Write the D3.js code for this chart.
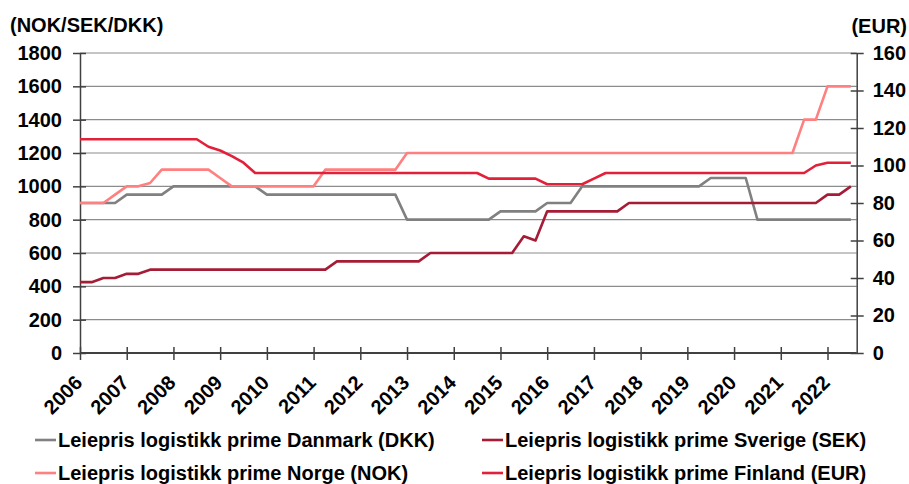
<!DOCTYPE html>
<html>
<head>
<meta charset="utf-8">
<script src="https://cdn.jsdelivr.net/npm/d3@7"></script>
<style>
  html, body { margin: 0; padding: 0; background: #fff; }
  svg text { font-family: Arial, "Liberation Sans", sans-serif; font-weight: bold; fill: #000; }
</style>
</head>
<body>
<svg id="chart" width="909" height="484"></svg>
<script>
// Quarterly observations, 2006Q1 .. 2022Q3 (index 0 .. 66)
const yearLabels = ["2006","2007","2008","2009","2010","2011","2012","2013","2014","2015","2016","2017","2018","2019","2020","2021","2022"];
const leftTicks = [0, 200, 400, 600, 800, 1000, 1200, 1400, 1600, 1800];
const rightTicks = [0, 20, 40, 60, 80, 100, 120, 140, 160];

const danmark = [900,900,900,900, 950,950,950,950, 1000,1000,1000,1000, 1000,1000,1000,1000,
  950,950,950,950, 950,950,950,950, 950,950,950,950, 800,800,800,800,
  800,800,800,800, 850,850,850,850, 900,900,900,1000, 1000,1000,1000,1000,
  1000,1000,1000,1000, 1000,1000,1050,1050, 1050,1050,800,800, 800,800,800,800,
  800,800,800];
const norge = [900,900,900,950, 1000,1000,1020,1100, 1100,1100,1100,1100, 1050,1000,1000,1000,
  1000,1000,1000,1000, 1000,1100,1100,1100, 1100,1100,1100,1100, 1200,1200,1200,1200,
  1200,1200,1200,1200, 1200,1200,1200,1200, 1200,1200,1200,1200, 1200,1200,1200,1200,
  1200,1200,1200,1200, 1200,1200,1200,1200, 1200,1200,1200,1200, 1200,1200,1400,1400,
  1600,1600,1600];
const sverige = [425,425,450,450, 475,475,500,500, 500,500,500,500, 500,500,500,500,
  500,500,500,500, 500,500,550,550, 550,550,550,550, 550,550,600,600,
  600,600,600,600, 600,600,700,675, 850,850,850,850, 850,850,850,900,
  900,900,900,900, 900,900,900,900, 900,900,900,900, 900,900,900,900,
  950,950,1000];
const finland = [114,114,114,114, 114,114,114,114, 114,114,114,110, 108,105,101.5,96,
  96,96,96,96, 96,96,96,96, 96,96,96,96, 96,96,96,96,
  96,96,96,93, 93,93,93,93, 90,90,90,90, 93,96,96,96,
  96,96,96,96, 96,96,96,96, 96,96,96,96, 96,96,96,100,
  101.5,101.5,101.5];

const seriesNames = [
  "Leiepris logistikk prime Danmark (DKK)",
  "Leiepris logistikk prime Sverige (SEK)",
  "Leiepris logistikk prime Norge (NOK)",
  "Leiepris logistikk prime Finland (EUR)"
];
const colors = { dk: "#808080", se: "#A51C36", no: "#FF8080", fi: "#E2203A" };

const svg = d3.select("#chart");
const mLeft = 80, mRight = 856.7, mTop = 53, mBottom = 353;
const FS = 20;

const x = d3.scaleLinear().domain([0, 66.5]).range([mLeft, mRight]);
const yL = d3.scaleLinear().domain([0, 1800]).range([mBottom, mTop]);
const yR = d3.scaleLinear().domain([0, 160]).range([mBottom, mTop]);

// gridlines
svg.append("g").selectAll("line").data(leftTicks.filter(d => d > 0)).join("line")
  .attr("x1", mLeft).attr("x2", mRight)
  .attr("y1", d => yL(d)).attr("y2", d => yL(d))
  .attr("stroke", "#8c8c8c").attr("stroke-width", 1.2);

// left axis
const gL = svg.append("g").attr("transform", `translate(${mLeft},0)`)
  .call(d3.axisLeft(yL).tickValues(leftTicks).tickFormat(d3.format("d")).tickSize(0).tickPadding(18));
gL.select(".domain").attr("stroke", "#404040").attr("stroke-width", 1.5);
gL.selectAll(".tick line").attr("x1", -7).attr("x2", 6).attr("stroke", "#404040").attr("stroke-width", 1.5);
gL.selectAll(".tick text").attr("font-size", FS).attr("font-family", null).attr("fill", "#000");

// right axis
const gR = svg.append("g").attr("transform", `translate(${mRight},0)`)
  .call(d3.axisRight(yR).tickValues(rightTicks).tickFormat(d3.format("d")).tickSize(0).tickPadding(16));
gR.select(".domain").attr("stroke", "#404040").attr("stroke-width", 1.5);
gR.selectAll(".tick line").attr("x1", -6).attr("x2", 7).attr("stroke", "#404040").attr("stroke-width", 1.5);
gR.selectAll(".tick text").attr("font-size", FS).attr("font-family", null).attr("fill", "#000");

// bottom axis
const gB = svg.append("g").attr("transform", `translate(0,${mBottom})`)
  .call(d3.axisBottom(x).tickValues(yearLabels.map((_, i) => i * 4))
    .tickFormat((d, i) => yearLabels[i]).tickSize(0));
gB.select(".domain").attr("d", `M${mLeft},0H${mRight}`).attr("stroke", "#404040").attr("stroke-width", 2);
gB.selectAll(".tick line").attr("y1", -6).attr("y2", 7).attr("stroke", "#404040").attr("stroke-width", 1.5);
gB.selectAll(".tick text").attr("font-size", FS).attr("font-family", null).attr("fill", "#000")
  .attr("text-anchor", "end").attr("dy", null).attr("y", 0)
  .attr("transform", "translate(3,31) rotate(-45)");

// lines
const lineL = d3.line().x((d, i) => x(i)).y(d => yL(d));
const lineR = d3.line().x((d, i) => x(i)).y(d => yR(d));
const plotted = [
  { data: danmark, gen: lineL, color: colors.dk },
  { data: sverige, gen: lineL, color: colors.se },
  { data: norge, gen: lineL, color: colors.no },
  { data: finland, gen: lineR, color: colors.fi }
];
svg.append("g").selectAll("path").data(plotted).join("path")
  .attr("d", d => d.gen(d.data))
  .attr("fill", "none").attr("stroke", d => d.color).attr("stroke-width", 2.6)
  .attr("stroke-linejoin", "round");

// axis titles
svg.append("text").attr("x", 10).attr("y", 32).attr("font-size", FS).text("(NOK/SEK/DKK)");
svg.append("text").attr("x", 907).attr("y", 33).attr("font-size", FS).attr("text-anchor", "end").text("(EUR)");

// legend
const legendItems = [
  { name: seriesNames[0], color: colors.dk, lx: 35, ly: 440 },
  { name: seriesNames[1], color: colors.se, lx: 482, ly: 440 },
  { name: seriesNames[2], color: colors.no, lx: 35, ly: 473 },
  { name: seriesNames[3], color: colors.fi, lx: 482, ly: 473 }
];
const lg = svg.append("g").selectAll("g").data(legendItems).join("g");
lg.append("line").attr("x1", d => d.lx).attr("x2", d => d.lx + 21)
  .attr("y1", d => d.ly).attr("y2", d => d.ly)
  .attr("stroke", d => d.color).attr("stroke-width", 2.6);
lg.append("text").attr("x", d => d.lx + 23).attr("y", d => d.ly + 7)
  .attr("font-size", FS).text(d => d.name);
</script>
</body>
</html>
